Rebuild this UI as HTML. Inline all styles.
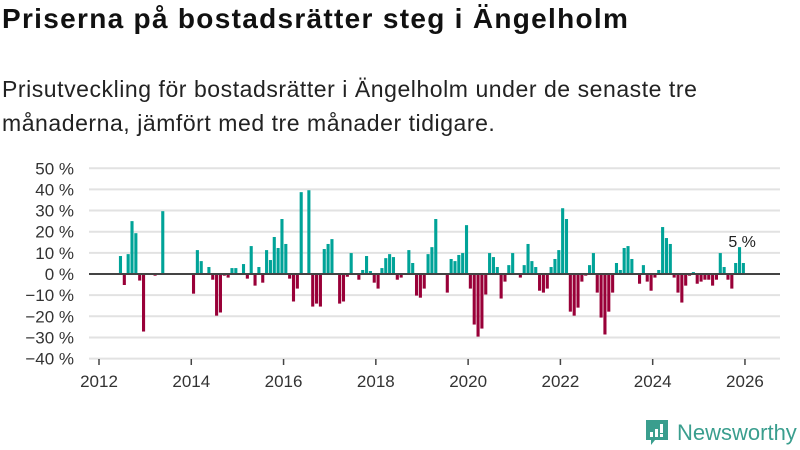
<!DOCTYPE html>
<html><head><meta charset="utf-8">
<style>
body{margin:0;width:800px;height:450px;background:#fff;font-family:"Liberation Sans",sans-serif;color:#111;overflow:hidden;position:relative}
#title{position:absolute;left:2px;top:3px;font-size:28px;font-weight:bold;margin:0;letter-spacing:1.3px;white-space:nowrap}
#subtitle{position:absolute;left:2px;top:72px;font-size:23px;line-height:34px;margin:0;color:#222;width:760px;letter-spacing:0.55px;white-space:nowrap}
svg{position:absolute;left:0;top:0}
</style></head><body>
<h1 id="title">Priserna på bostadsrätter steg i Ängelholm</h1>
<p id="subtitle">Prisutveckling för bostadsrätter i Ängelholm under de senaste tre<br>månaderna, jämfört med tre månader tidigare.</p>
<svg id="chart" width="800" height="450"></svg>
<div style="position:absolute;left:645px;top:419px;height:28px;display:flex;align-items:center">
<svg width="24" height="28" viewBox="0 0 24 28" style="position:static"><path d="M1 1H23V21H10L6 26V21H1Z" fill="#3a9e8e"/><rect x="5" y="13" width="3" height="5" fill="#fff"/><rect x="10" y="10" width="3" height="8" fill="#fff"/><rect x="15" y="5" width="3" height="9" fill="#fff"/><rect x="15" y="15" width="3" height="3" fill="#fff"/></svg>
<span style="color:#3a9e8e;font-size:22px;margin-left:8px">Newsworthy</span></div>
<script>
const yTicks=[50,40,30,20,10,0,-10,-20,-30,-40];
const xTickYears=[2012,2014,2016,2018,2020,2022,2024,2026];
const monthIndex=[5,6,7,8,9,10,11,14,16,24,25,26,28,29,30,31,32,33,34,35,37,38,39,40,41,42,43,44,45,46,47,48,49,50,51,52,54,55,56,57,58,59,60,62,63,64,65,67,68,69,70,71,72,73,74,75,76,77,78,80,81,82,83,84,85,86,87,90,91,92,93,94,95,96,97,98,99,100,101,102,103,104,105,106,107,109,110,111,112,113,114,115,116,117,118,119,120,121,122,123,124,125,126,127,128,129,130,131,132,133,134,135,136,137,138,140,141,142,143,144,145,146,147,148,149,150,151,152,153,154,155,156,157,158,159,160,161,162,163,164,165,166,167];
const values=[8.5,-5.2,9.4,25,19.3,-3.1,-27.2,-0.8,29.7,-9.3,11.3,6.1,3.3,-2.7,-19.7,-18.2,-0.8,-1.7,2.8,2.8,4.7,-2.2,13.2,-5.5,3.3,-4.1,11.3,6.6,17.5,12.3,26,14.2,-2.2,-13,-6.9,38.7,39.6,-15.4,-14,-15.4,11.8,14.2,16.5,-14,-13,-1.3,9.9,-2.7,1.9,8.5,1.4,-4.1,-6.9,2.8,7.5,9.4,8,-2.7,-1.7,11.3,5.2,-10.2,-11.2,-6.9,9.4,12.7,26,-8.8,7.1,6.1,9,9.9,23.1,-6.9,-23.9,-29.6,-25.8,-9.7,9.9,8,3.3,-11.6,-3.6,4.2,9.9,-1.7,4.2,14.2,6.1,3.3,-7.9,-8.8,-6.9,3.3,7.1,11.3,31.1,26,-17.8,-19.7,-15.9,-3.6,-0.8,4.2,9.9,-8.8,-20.6,-28.6,-17.8,-8.8,5.2,1.9,12.3,13.2,7.1,-4.6,4.2,-3.6,-7.9,-1.7,1.9,22.2,17,14.2,-1.7,-8.8,-13.5,-5.5,-0.8,0.9,-4.6,-3.6,-2.7,-2.7,-5.5,-2.7,9.9,3.3,-2.7,-6.9,5.2,12.7,5.2];
const lastLabel="5 %";
const NS='http://www.w3.org/2000/svg';
const svg=document.getElementById('chart');
const y=v=>274-v*2.115;
const x=m=>99+m*3.845;
function mk(t,a){const e=document.createElementNS(NS,t);for(const k in a)e.setAttribute(k,a[k]);svg.appendChild(e);return e;}
yTicks.forEach(t=>{
 if(t!==0){const g=mk('line',{x1:89,x2:780,y1:y(t),y2:y(t),stroke:'#e2e2e2','stroke-width':2});
 
 }
 const l=mk('text',{x:74,y:y(t)+6,'text-anchor':'end','font-size':17,fill:'#333','font-family':'Liberation Sans, sans-serif'});
 l.textContent=(t<0?'\u2212'+(-t):t)+' %';
 
 
});
xTickYears.forEach(yr=>{
 const xx=x((yr-2012)*12);
 const t=mk('line',{x1:xx,x2:xx,y1:359,y2:365,stroke:'#444','stroke-width':1.5});
 
 
 const l=mk('text',{x:xx,y:387,'text-anchor':'middle','font-size':17,fill:'#333','font-family':'Liberation Sans, sans-serif'});
 l.textContent=yr;
 
 
});
values.forEach((v,i)=>{
 const m=monthIndex[i];
 const r=mk('rect',{x:x(m)+0.7,width:3.1,y:v>=0?y(v):y(0),height:Math.abs(y(v)-y(0)),fill:v>=0?'#00a398':'#990038'});
 
 
});
const z=mk('line',{x1:89,x2:780,y1:y(0),y2:y(0),stroke:'#444','stroke-width':2});


const li=values.length-1;
const lab=mk('text',{x:x(monthIndex[li])+1,y:y(values[li])-16,'text-anchor':'middle','font-size':16,fill:'#222','font-family':'Liberation Sans, sans-serif'});
lab.textContent=lastLabel;


</script>
</body></html>
